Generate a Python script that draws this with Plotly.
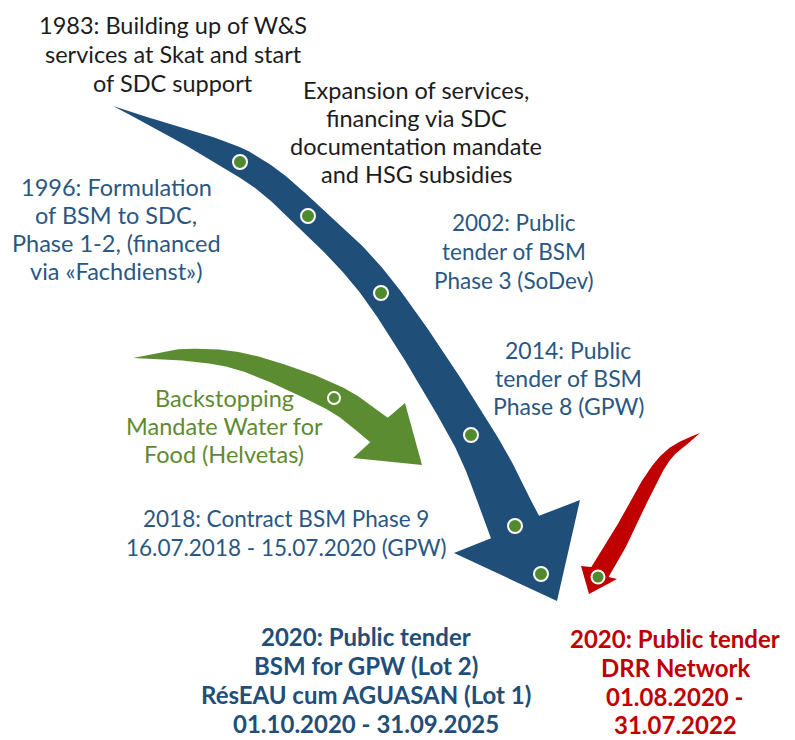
import numpy as np
import plotly.graph_objects as go

W, H = 795, 740
PAGE_MARGIN = 8  # default browser body margin

# ---- text content -------------------------------------------------------
label_1983 = ["1983: Building up of W&S", "services at Skat and start", "of SDC support"]
label_expansion = ["Expansion of services,", "financing via SDC", "documentation mandate", "and HSG subsidies"]
label_1996 = ["1996: Formulation", "of BSM to SDC,", "Phase 1-2, (financed", "via «Fachdienst»)"]
label_2002 = ["2002: Public", "tender of BSM", "Phase 3 (SoDev)"]
label_2014 = ["2014: Public", "tender of BSM", "Phase 8 (GPW)"]
label_backstop = ["Backstopping", "Mandate Water for", "Food (Helvetas)"]
label_2018 = ["2018: Contract BSM Phase 9", "16.07.2018 - 15.07.2020 (GPW)"]
label_2020_bsm = ["2020: Public tender", "BSM for GPW (Lot 2)", "RésEAU cum AGUASAN (Lot 1)", "01.10.2020 - 31.09.2025"]
label_2020_drr = ["2020: Public tender", "DRR Network", "01.08.2020 -", "31.07.2022"]

# ---- arrow geometry (pixel space) -------------------------------------
blue_center_x = [113, 240, 308, 381, 472, 515]
blue_center_y = [106, 162, 216, 293, 435, 527]
blue_width_s = [0, 0.06, 0.15, 0.227, 0.37, 0.53, 0.83, 1.0]
blue_width_w = [0, 6, 18, 27, 30, 33, 41, 53]
blue_head_x = [580, 557, 454]
blue_head_y = [500, 601, 553]
blue_dots_x = [240, 308, 381, 471, 515, 541]
blue_dots_y = [162, 216, 293, 435, 526, 574]

green_center_x = [133, 190, 250, 334, 379]
green_center_y = [358, 355, 364, 398, 430]
green_width_s = [0, 0.05, 0.17, 0.42, 0.68, 1.0]
green_width_w = [0, 4, 11, 18, 25, 30]
green_head_x = [405, 422, 353]
green_head_y = [403, 465, 458]
green_dots_x = [334]
green_dots_y = [398]

red_center_x = [700, 668, 645, 622, 600]
red_center_y = [433, 455, 490, 535, 572]
red_width_s = [0, 0.1, 0.4, 0.75, 1.0]
red_width_w = [0, 6, 14, 18, 20]
red_head_x = [617, 589, 581]
red_head_y = [579, 594, 566]
red_dots_x = [598]
red_dots_y = [577]

BLUE = "#1f4e79"
BLUE_TXT = "#2a5782"
GREEN = "#5b8c32"
GREEN_TXT = "#5f8a30"
RED = "#c00000"
DOT = "#4f8a2e"
BLACK = "#1c1c1c"
FONT = "Lato"


def catmull(px, py, n=40):
    P = np.column_stack([px, py]).astype(float)
    P = np.vstack([2 * P[0] - P[1], P, 2 * P[-1] - P[-2]])
    out = []
    for i in range(1, len(P) - 2):
        p0, p1, p2, p3 = P[i - 1], P[i], P[i + 1], P[i + 2]
        t = np.linspace(0, 1, n, endpoint=False)[:, None]
        seg = 0.5 * ((2 * p1) + (-p0 + p2) * t + (2 * p0 - 5 * p1 + 4 * p2 - p3) * t ** 2
                     + (-p0 + 3 * p1 - 3 * p2 + p3) * t ** 3)
        out.append(seg)
    out.append(P[-2][None, :])
    return np.vstack(out)


def arrow_polygon(cx, cy, ws, ww, hx, hy):
    C = catmull(cx, cy)
    d = np.gradient(C, axis=0)
    d /= np.linalg.norm(d, axis=1)[:, None]
    nrm = np.stack([-d[:, 1], d[:, 0]], axis=1)
    seg = np.linalg.norm(np.diff(C, axis=0), axis=1)
    s = np.concatenate([[0], np.cumsum(seg)])
    s /= s[-1]
    w = np.interp(s, ws, ww) / 2
    A = C + nrm * w[:, None]
    B = C - nrm * w[:, None]
    head = np.column_stack([hx, hy])
    poly = np.vstack([B, head, A[::-1], B[:1]])
    return poly[:, 0], poly[:, 1]


fig = go.Figure()

for cx, cy, ws, ww, hx, hy, col in [
    (blue_center_x, blue_center_y, blue_width_s, blue_width_w, blue_head_x, blue_head_y, BLUE),
    (green_center_x, green_center_y, green_width_s, green_width_w, green_head_x, green_head_y, GREEN),
    (red_center_x, red_center_y, red_width_s, red_width_w, red_head_x, red_head_y, RED),
]:
    x, y = arrow_polygon(cx, cy, ws, ww, hx, hy)
    fig.add_trace(go.Scatter(x=x, y=y, mode="lines", fill="toself", fillcolor=col,
                             line=dict(width=0, color=col), hoverinfo="skip", showlegend=False))

for dx, dy, col, size in [
    (blue_dots_x, blue_dots_y, DOT, 14),
    (green_dots_x, green_dots_y, GREEN, 12),
    (red_dots_x, red_dots_y, DOT, 13),
]:
    fig.add_trace(go.Scatter(x=dx, y=dy, mode="markers",
                             marker=dict(size=size, color=col, line=dict(color="white", width=2)),
                             hoverinfo="skip", showlegend=False))


def add_label(lines, x, ys, color, size=23.5, bold=False):
    for line, y in zip(lines, ys):
        txt = f"<b>{line}</b>" if bold else line
        fig.add_annotation(x=x, y=y, xref="x", yref="y", text=txt, showarrow=False,
                           align="center", xanchor="center", yanchor="middle",
                           borderpad=0,
                           font=dict(family=FONT, size=size, color=color))


add_label(label_1983, 173, [25, 54, 83], BLACK)
add_label(label_expansion, 416, [90, 118, 146, 174], BLACK)
add_label(label_1996, 116, [187, 215, 243, 271], BLUE_TXT)
add_label(label_2002, 514, [222, 251, 280], BLUE_TXT, size=22.5)
add_label(label_2014, 568, [350, 378, 406], BLUE_TXT, size=23)
add_label(label_backstop, 224, [398, 426, 454], GREEN_TXT, size=23.5)
add_label(label_2018, 286, [518, 547], BLUE_TXT, size=22.5)
add_label(label_2020_bsm, 366, [636, 665, 694, 723], BLUE, size=24, bold=True)
add_label(label_2020_drr, 675, [638, 667, 696, 724], RED, size=24, bold=True)

fig.update_layout(
    width=W - PAGE_MARGIN, height=H - PAGE_MARGIN,
    margin=dict(l=0, r=0, t=0, b=0),
    paper_bgcolor="white", plot_bgcolor="white",
    xaxis=dict(range=[PAGE_MARGIN, W], visible=False, fixedrange=True),
    yaxis=dict(range=[H, PAGE_MARGIN], visible=False, fixedrange=True),
    showlegend=False,
)

fig.write_html("out.html")
